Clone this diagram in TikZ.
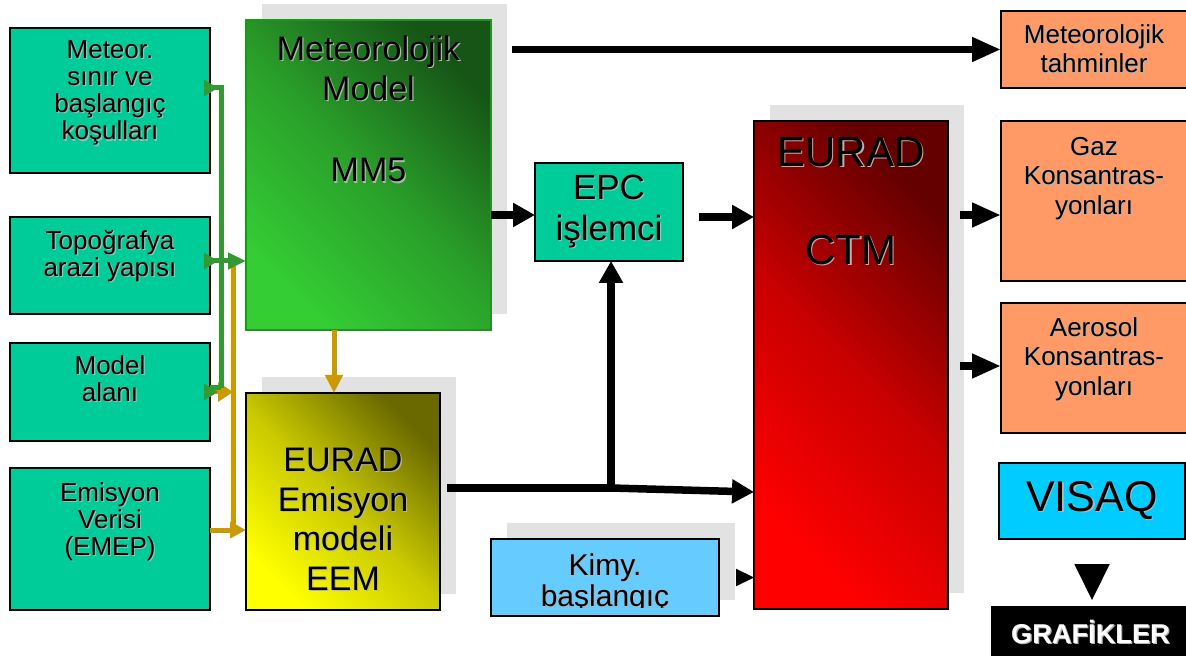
\documentclass[tikz,border=0pt]{standalone}
\usepackage{fontspec}
\setmainfont{Liberation Sans}
\usetikzlibrary{arrows.meta,shadows}
\definecolor{tealc}{HTML}{00CC99}
\definecolor{salmonc}{HTML}{FF9966}
\definecolor{kimyc}{HTML}{66CCFF}
\definecolor{visaqc}{HTML}{00CCFF}
\definecolor{shadowc}{HTML}{E2E2E2}
\definecolor{tshade}{HTML}{B4B4B4}
\definecolor{greenc}{HTML}{339933}
\definecolor{orangec}{HTML}{CC9900}
\definecolor{mmdark}{RGB}{22,85,22}
\definecolor{mmmid}{RGB}{42,160,42}
\definecolor{mmlight}{RGB}{52,205,52}
\definecolor{mmborder}{RGB}{30,150,30}
\definecolor{eemdark}{RGB}{105,105,0}
\definecolor{eemmid}{RGB}{200,200,0}
\definecolor{eemlight}{RGB}{255,255,0}
\definecolor{ctmdark}{RGB}{100,0,0}
\definecolor{ctmmid}{RGB}{200,0,0}
\definecolor{ctmlight}{RGB}{255,0,0}
\newcommand\tsh[1]{\leavevmode\rlap{\kern0.6pt\raisebox{-0.6pt}{\textcolor{tshade}{#1}}}#1}
\tikzset{
  box/.style={draw=black, line width=0.75pt, inner sep=0pt, outer sep=0pt},
  tealbox/.style={box, fill=tealc, minimum width=100pt},
  salbox/.style={box, fill=salmonc, minimum width=93pt},
  shad/.style={general shadow={fill=shadowc, shadow xshift=8pt, shadow yshift=8pt}},
  lbl/.style={anchor=north, inner sep=0pt, align=center},
  smallfont/.style={font=\fontsize{13}{13.6}\selectfont},
  rfont/.style={font=\fontsize{13}{14.7}\selectfont},
  bline/.style={line width=3.75pt},
  barr/.style={bline, -{Triangle[length=11pt,width=11.5pt]}},
  barrL/.style={bline, -{Triangle[length=14.5pt,width=11.5pt]}},
  gline/.style={draw=greenc, line width=2.5pt},
  oline/.style={draw=orangec, line width=2.5pt},
}
\begin{document}
\begin{tikzpicture}[x=0.5pt,y=-0.5pt]
\useasboundingbox (0,0) rectangle (1186,656);

% left input boxes
\node[tealbox, minimum height=72.5pt, label={[lbl,smallfont,yshift=-6pt]north:\tsh{Meteor.}\\\tsh{sınır ve}\\\tsh{başlangıç}\\\tsh{koşulları}}] (m1) at (110,100.5) {};
\node[tealbox, minimum height=48.5pt, label={[lbl,smallfont,yshift=-6.5pt]north:\tsh{Topoğrafya}\\\tsh{arazi yapısı}}] (m2) at (110,265.5) {};
\node[tealbox, minimum height=49pt, label={[lbl,smallfont,yshift=-6pt]north:\tsh{Model}\\\tsh{alanı}}] (m3) at (110,392) {};
\node[tealbox, minimum height=71pt, label={[lbl,smallfont,yshift=-7pt]north:\tsh{Emisyon}\\\tsh{Verisi}\\\tsh{(EMEP)}}] (m4) at (110,539) {};

% MM5
\node[box, draw=mmborder, shad, top color=mmdark, bottom color=mmlight, middle color=mmmid, shading angle=-45,
  minimum width=122.5pt, minimum height=155pt,
  label={[lbl,font=\fontsize{17}{20.3}\selectfont,yshift=-7.5pt]north:\tsh{Meteorolojik}\\\tsh{Model}\\\mbox{}\\\tsh{MM5}}] (mm5) at (368.5,175) {};

% EEM
\node[box, shad, top color=eemdark, bottom color=eemlight, middle color=eemmid, shading angle=-45,
  minimum width=97pt, minimum height=108.5pt,
  label={[lbl,font=\fontsize{17}{19.75}\selectfont,yshift=-27.5pt]north:\tsh{EURAD}\\\tsh{Emisyon}\\\tsh{modeli}\\\tsh{EEM}}] (eem) at (343,501.5) {};

% EPC
\node[box, fill=tealc, minimum width=74pt, minimum height=49pt, align=center,
  font=\fontsize{17.5}{20.5}\selectfont] (epc) at (609,212) {\tsh{EPC}\\\tsh{işlemci}};

% CTM
\node[box, shad, top color=ctmdark, bottom color=ctmlight, middle color=ctmmid, shading angle=-45,
  minimum width=97pt, minimum height=244pt,
  label={[lbl,font=\fontsize{21}{24.5}\selectfont,yshift=-8pt]north:\tsh{EURAD}\\\mbox{}\\\tsh{CTM}}] (ctm) at (851,365) {};

% Kimy.
\node[box, shad, fill=kimyc, minimum width=114pt, minimum height=38.5pt] (kimy) at (605,577.5) {};
\begin{scope}
  \clip (kimy.north west) rectangle ([yshift=4.5pt]kimy.south east);
  \node[lbl, font=\fontsize{15}{15.5}\selectfont] (kimytxt) at ([yshift=-7pt]kimy.north) {\tsh{Kimy.}\\\tsh{başlangıç}};
\end{scope}

% outputs
\node[salbox, minimum height=38.5pt, align=center, rfont] (tah) at (1094,49.5) {\tsh{Meteorolojik}\\\tsh{tahminler}};
\node[salbox, minimum height=80pt, label={[lbl,rfont,yshift=-8pt]north:\tsh{Gaz}\\\tsh{Konsantras-}\\\tsh{yonları}}] (gaz) at (1094,201) {};
\node[salbox, minimum height=65pt, label={[lbl,rfont,yshift=-7pt]north:\tsh{Aerosol}\\\tsh{Konsantras-}\\\tsh{yonları}}] (aer) at (1094,368) {};

\node[box, fill=visaqc, minimum width=93pt, minimum height=38pt,
  font=\fontsize{21.5}{24}\selectfont] (visaq) at (1092,501) {\tsh{VISAQ}};
\node[fill=black, inner sep=0pt, outer sep=0pt, minimum width=99.5pt, minimum height=27pt,
  text=white, font=\fontsize{13.6}{15}\selectfont\bfseries] (graf) at (1090.5,633) {\raisebox{1pt}{\tsh{GRAFİKLER}}};

% orange connectors
\coordinate (oB) at (233,261);
\coordinate (oC) at (233,392);
\coordinate (oD) at (233,530);
\coordinate (oE) at (334,360);
\draw[oline] (m2.east |- oB) -- (oB) -- (oD);
\draw[oline, -{Triangle[length=7.5pt,width=9.5pt]}] (m3.east |- oC) -- (oC);
\draw[oline, -{Triangle[length=8pt,width=8pt]}] (m4.east |- oD) -- (eem.west |- oD);
\draw[oline, -{Triangle[length=9pt,width=8.5pt]}] (mm5.south -| oE) -- (eem.north -| oE);

% green connectors
\coordinate (gA) at (221,88);
\coordinate (gB) at (221,261);
\coordinate (gC) at (221,388);
\draw[gline] (m1.east |- gA) -- (gA) -- (gC);
\draw[gline] (m2.east |- gB) -- (gB);
\draw[gline] (m3.east |- gC) -- (gC);
\draw[gline, -{Triangle[length=7pt,width=8pt]}] ([xshift=-3pt]m1.east |- gA) -- ++(7pt,0);
\draw[gline, -{Triangle[length=7pt,width=8pt]}] ([xshift=-3pt]m2.east |- gB) -- ++(7pt,0);
\draw[gline, -{Triangle[length=7pt,width=8pt]}] ([xshift=-3pt]m3.east |- oC) -- ++(7pt,0);
\draw[gline, -{Triangle[length=9pt,width=8pt]}] (gB) -- (mm5.west |- gB);

% black connectors
\coordinate (jn) at (611,488);
\coordinate (cg) at (960,215);
\coordinate (ca) at (960,366);
\draw[barrL, shorten <=10.5pt] (mm5.east |- tah.west) -- (tah.west);
\draw[barr] ([yshift=-1.5pt]mm5.east |- epc.west) -- ([yshift=-1.5pt]epc.west);
\draw[barr, shorten <=8pt] ([yshift=-2.5pt]epc.east) -- ([yshift=-2.5pt]ctm.west |- epc.east);
\draw[bline] ([xshift=3.5pt]eem.east |- jn) -- (jn);
\draw[barr] (jn) -- ([yshift=-2pt]ctm.west |- jn);
\draw[barr] (jn) -- (jn |- epc.south);
\draw[line width=1pt, -{Triangle[length=9pt,width=8.5pt]}, shorten <=9pt] (kimy.east) -- (kimy.east -| ctm.west);
\draw[barrL] (cg) -- (gaz.west |- cg);
\draw[barrL] (ca) -- (aer.west |- ca);
\draw[line width=1pt, -{Triangle[length=18pt,width=17.5pt]}, shorten <=12.5pt, shorten >=3pt] (visaq.south) -- (visaq.south |- graf.north);
\end{tikzpicture}
\end{document}
